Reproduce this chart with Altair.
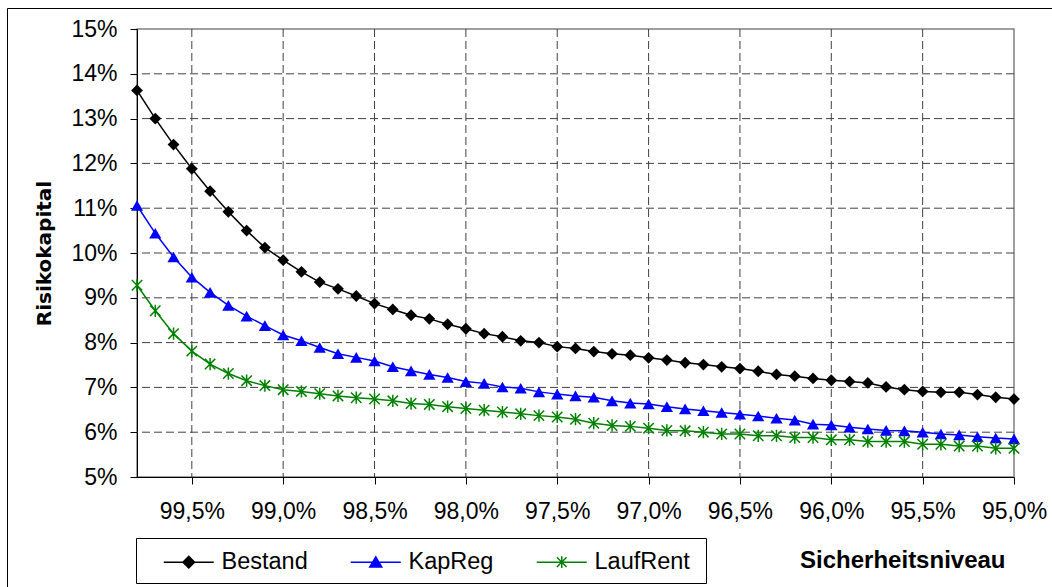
import altair as alt
import pandas as pd

# ---------------- data ----------------
levels = [99.8, 99.7, 99.6, 99.5, 99.4, 99.3, 99.2, 99.1, 99.0, 98.9,
          98.8, 98.7, 98.6, 98.5, 98.4, 98.3, 98.2, 98.1, 98.0, 97.9,
          97.8, 97.7, 97.6, 97.5, 97.4, 97.3, 97.2, 97.1, 97.0, 96.9,
          96.8, 96.7, 96.6, 96.5, 96.4, 96.3, 96.2, 96.1, 96.0, 95.9,
          95.8, 95.7, 95.6, 95.5, 95.4, 95.3, 95.2, 95.1, 95.0]

bestand = [13.63, 13.00, 12.42, 11.88, 11.38, 10.92, 10.50, 10.12, 9.84, 9.58,
           9.35, 9.20, 9.04, 8.87, 8.74, 8.61, 8.53, 8.41, 8.31, 8.20,
           8.13, 8.04, 8.00, 7.91, 7.87, 7.80, 7.75, 7.72, 7.66, 7.61,
           7.55, 7.51, 7.46, 7.42, 7.36, 7.29, 7.25, 7.20, 7.16, 7.13,
           7.10, 7.01, 6.95, 6.91, 6.89, 6.89, 6.84, 6.78, 6.74]

kapreg = [11.06, 10.44, 9.91, 9.46, 9.12, 8.83, 8.59, 8.38, 8.17, 8.04,
          7.89, 7.75, 7.67, 7.59, 7.46, 7.37, 7.29, 7.22, 7.13, 7.09,
          7.01, 6.98, 6.90, 6.85, 6.81, 6.78, 6.70, 6.65, 6.63, 6.57,
          6.52, 6.48, 6.44, 6.40, 6.36, 6.31, 6.27, 6.18, 6.16, 6.11,
          6.07, 6.04, 6.03, 6.00, 5.96, 5.94, 5.90, 5.87, 5.85]

laufrent = [9.28, 8.71, 8.20, 7.81, 7.52, 7.31, 7.15, 7.04, 6.95, 6.91,
            6.86, 6.81, 6.77, 6.74, 6.70, 6.64, 6.62, 6.57, 6.53, 6.49,
            6.45, 6.41, 6.37, 6.34, 6.29, 6.20, 6.15, 6.13, 6.09, 6.04,
            6.03, 6.00, 5.96, 5.96, 5.92, 5.92, 5.88, 5.88, 5.83, 5.83,
            5.79, 5.79, 5.79, 5.73, 5.73, 5.69, 5.69, 5.64, 5.64]

series_names = ["Bestand", "KapReg", "LaufRent"]
colors = ["#000000", "#0000FF", "#008000"]

x_ticks = [99.5, 99.0, 98.5, 98.0, 97.5, 97.0, 96.5, 96.0, 95.5, 95.0]
y_ticks = [5, 6, 7, 8, 9, 10, 11, 12, 13, 14, 15]
x_grid = [99.5, 99.0, 98.5, 98.0, 97.5, 97.0, 96.5, 96.0, 95.5]
y_grid = [6, 7, 8, 9, 10, 11, 12, 13, 14]

# ---------------- styling ----------------
FONT = "Liberation Sans"
W, H = 877, 448
ASTERISK = "M-0.85,-0.85L0.85,0.85M-0.85,0.85L0.85,-0.85M0,-1L0,1"
legend_paths = [
    "M-2.5,0L2.5,0M0,-0.58L0.58,0L0,0.58L-0.58,0Z",
    "M-2.5,0L2.5,0M0,-0.52L0.6,0.48L-0.6,0.48Z",
    "M-2.5,0L2.5,0M-0.48,-0.48L0.48,0.48M-0.48,0.48L0.48,-0.48M0,-0.58L0,0.58",
]

rows = []
for name, vals in zip(series_names, [bestand, kapreg, laufrent]):
    for lv, v in zip(levels, vals):
        rows.append({"level": lv, "value": v, "series": name})
df = pd.DataFrame(rows)

xscale = alt.Scale(domain=[95.0, 99.8], reverse=True, nice=False, zero=False)
yscale = alt.Scale(domain=[5, 15], nice=False, zero=False)

x_axis = alt.Axis(values=x_ticks,
                  labelExpr="replace(format(datum.value, '.1f'), '.', ',') + '%'",
                  grid=False, tickSize=7, labelPadding=16,
                  labelOverlap=False, labelFlush=False, labelBound=False,
                  title="Sicherheitsniveau", titleX=868, titleY=83,
                  titleAlign="right", titleBaseline="middle",
                  titleFont=FONT, titleFontSize=24)
y_axis = alt.Axis(values=y_ticks, labelExpr="datum.value + '%'",
                  grid=False, tickSize=7, labelPadding=13,
                  labelOverlap=False, labelFlush=False, labelBound=False,
                  title="Risikokapital", titleX=-93, titleY=224,
                  titleAngle=270, titleAlign="center", titleBaseline="middle",
                  titleFont="DejaVu Sans", titleFontSize=20)

X = alt.X("level:Q", scale=xscale, axis=x_axis)
Y = alt.Y("value:Q", scale=yscale, axis=y_axis)

# grid lines
hgrid = alt.Chart(pd.DataFrame({"value": y_grid})).mark_rule(
    color="#404040", strokeDash=[8, 4], strokeWidth=1
).encode(y=Y)
vgrid = alt.Chart(pd.DataFrame({"level": x_grid})).mark_rule(
    color="#404040", strokeDash=[8, 4], strokeWidth=1
).encode(x=X)


def line(name, color):
    return alt.Chart(df).transform_filter(alt.datum.series == name).mark_line(
        strokeWidth=1.5, color=color
    ).encode(x=X, y=Y)


def pts(name, color, shape, filled, size, sw):
    return alt.Chart(df).transform_filter(alt.datum.series == name).mark_point(
        shape=shape, filled=filled, size=size, color=color, opacity=1, strokeWidth=sw
    ).encode(x=X, y=Y)


l1 = line("Bestand", colors[0])
l2 = line("KapReg", colors[1])
l3 = line("LaufRent", colors[2])
p1 = pts("Bestand", colors[0], "diamond", True, 140, 1)
p2 = pts("KapReg", colors[1], "triangle-up", True, 150, 1)
p3 = pts("LaufRent", colors[2], ASTERISK, False, 150, 1.5)

leg = alt.Legend(orient="none", legendX=25, legendY=521, direction="horizontal",
                 title=None, labelFont=FONT, labelFontSize=23.5, labelColor="black",
                 symbolSize=400, symbolStrokeWidth=1.5, symbolOffset=15,
                 labelOffset=21, columnPadding=39, padding=0)

legend_layer = alt.Chart(df).transform_filter("datum.value < 0").mark_point(
    filled=True, opacity=1
).encode(
    x=X, y=Y,
    fill=alt.Fill("series:N", scale=alt.Scale(domain=series_names, range=colors), legend=leg),
    stroke=alt.Stroke("series:N", scale=alt.Scale(domain=series_names, range=colors), legend=leg),
    shape=alt.Shape("series:N", scale=alt.Scale(domain=series_names, range=legend_paths), legend=leg),
)

one = pd.DataFrame({"a": [0]})
legend_box = alt.Chart(one).mark_rect(fillOpacity=0, stroke="black", strokeWidth=1).encode(
    x=alt.value(-0.5), x2=alt.value(569.5), y=alt.value(509.5), y2=alt.value(554.5))
outer_box = alt.Chart(one).mark_rect(fillOpacity=0, stroke="black", strokeWidth=1).encode(
    x=alt.value(-129.5), x2=alt.value(W + 80), y=alt.value(-20.5), y2=alt.value(H + 150))

chart = alt.layer(
    outer_box, hgrid, vgrid, l1, l2, l3, p1, p2, p3, legend_layer, legend_box
).properties(
    width=W, height=H,
    autosize=alt.AutoSizeParams(type="none"),
    padding={"left": 137, "top": 29, "right": 38, "bottom": 110},
    background="white",
).configure_view(
    stroke="#808080", strokeWidth=1.5
).configure_axis(
    labelFont=FONT, labelFontSize=23, labelColor="black",
    titleFontWeight="bold", titleColor="black",
    domainColor="black", domainWidth=1, tickColor="black", tickWidth=1,
)

chart.save("out.html", embed_options={"renderer": "svg", "actions": False})
